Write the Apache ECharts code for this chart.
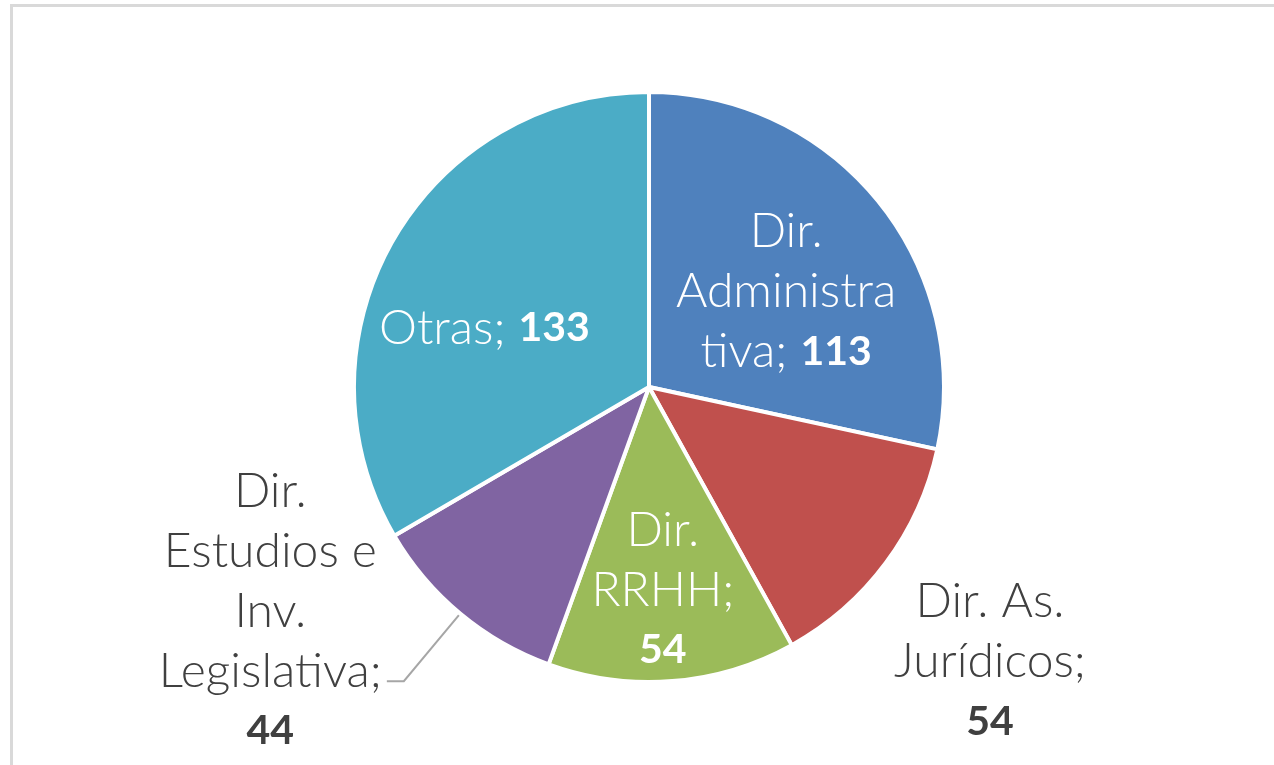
<!DOCTYPE html>
<html>
<head>
<meta charset="utf-8">
<script src="https://cdn.jsdelivr.net/npm/echarts@6/dist/echarts.min.js"></script>
<style>
html, body { margin: 0; padding: 0; background: #fff; }
#pie { width: 1274px; height: 765px; }
</style>
</head>
<body>
<div id="pie"></div>
<script type="text/javascript">

// data, clockwise from 12 o'clock
var categories = ['Dir. Administrativa', 'Dir. As. Jurídicos', 'Dir. RRHH', 'Dir. Estudios e Inv. Legislativa', 'Otras'];
var values = [113, 54, 54, 44, 133];
// label text as wrapped in the picture
var labelWraps = ['Dir.\nAdministra\ntiva;', 'Dir. As.\nJurídicos;', 'Dir.\nRRHH;', 'Dir.\nEstudios e\nInv.\nLegislativa;', 'Otras;'];
var numberSameLine = [true, false, false, false, true];
var colors = ['#4f81bd', '#c0504d', '#9bbb59', '#8064a2', '#4bacc6'];

var dark = '#404040';
var fontFamily = 'Lato, "Open Sans", sans-serif';

function richFor(color) {
    return {
        t: { color: color, fontSize: 48, fontWeight: 300, fontFamily: fontFamily, lineHeight: 60, align: 'center' },
        b: { color: color, fontSize: 41, fontWeight: 'bold', fontFamily: fontFamily, lineHeight: 60, align: 'center' }
    };
}

function labelText(i) {
    var lines = labelWraps[i].split('\n');
    var out = lines.map(function (l) { return '{t|' + l + '}'; });
    var num = '{b|' + values[i] + '}';
    if (numberSameLine[i]) {
        out[out.length - 1] = '{t|' + lines[lines.length - 1] + ' }' + num;
    } else {
        out.push(num);
    }
    return out.join('\n');
}

var inside = [true, false, true, false, true];

var pieData = [];
for (var i = 0; i < values.length; i++) {
    var item = {
        name: categories[i],
        value: values[i],
        itemStyle: { color: colors[i] },
        label: {
            position: inside[i] ? 'inside' : 'outside',
            color: inside[i] ? '#fff' : dark,
            rich: richFor(inside[i] ? '#fff' : dark)
        }
    };
    if (i === 1) {
        item.labelLine = { show: false };
    }
    if (i === 3) {
        item.label.padding = [0, 0, 140, 0];
    }
    pieData.push(item);
}

var chart = echarts.init(document.getElementById('pie'));

var option = {
    backgroundColor: '#fff',
    animation: false,
    graphic: [{
        type: 'rect',
        silent: true,
        z: -1,
        shape: { x: 11.5, y: 5.5, width: 1400, height: 900 },
        style: { fill: 'none', stroke: '#d9d9d9', lineWidth: 3 }
    }],
    series: [{
        type: 'pie',
        center: [649, 387],
        radius: 295,
        startAngle: 90,
        clockwise: true,
        avoidLabelOverlap: false,
        itemStyle: { borderColor: '#fff', borderWidth: 4 },
        label: {
            show: true,
            formatter: function (p) { return labelText(p.dataIndex); },
            fontFamily: fontFamily,
            fontSize: 48,
            distanceToLabelLine: 5
        },
        labelLine: {
            show: true,
            length: 88,
            length2: 17,
            lineStyle: { color: '#a6a6a6', width: 2 }
        },
        labelLayout: function (p) {
            var i = p.dataIndex;
            if (i === 0) return { dx: 20, dy: -1 };
            if (i === 1) return { x: 990, y: 662, align: 'center', verticalAlign: 'middle' };
            if (i === 2) return { dx: 2, dy: 53 };
            if (i === 4) return { dx: -34, dy: 16 };
            return {};
        },
        emphasis: { disabled: true },
        data: pieData
    }]
};

chart.setOption(option);

</script>
</body>
</html>
